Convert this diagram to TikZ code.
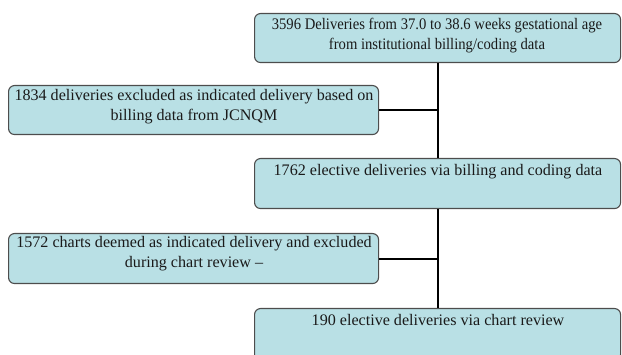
\documentclass[tikz,border=0pt]{standalone}
\usepackage{fontspec}
\setmainfont{Liberation Serif}
\definecolor{boxfill}{HTML}{B9E0E5}
\definecolor{boxline}{HTML}{4D4D4D}
\definecolor{txtcol}{HTML}{1A1A1A}
\tikzset{
  flowbox/.style={draw=boxline, fill=boxfill, line width=1.1pt, rounded corners=6pt, inner sep=0pt, anchor=north west},
  boxtext/.style={text=txtcol, font=\fontsize{16.1}{20}\selectfont, align=center, inner sep=0pt},
  link/.style={draw=black, line width=2pt}
}
\begin{document}
\begin{tikzpicture}[x=1pt,y=-1pt]
\useasboundingbox (0,0) rectangle (622,355);
\node[flowbox, minimum width=366pt, minimum height=49pt] (b1) at (254,13) {};
\node[flowbox, minimum width=370pt, minimum height=49pt] (b2) at (8,85) {};
\node[flowbox, minimum width=366pt, minimum height=50pt] (b3) at (254,158) {};
\node[flowbox, minimum width=370pt, minimum height=50pt] (b4) at (8,233) {};
\node[flowbox, minimum width=366pt, minimum height=52pt] (b5) at (254,308) {};
\node[boxtext, xscale=0.91, transform shape] (t1) at (437,36) {3596 Deliveries from 37.0 to 38.6 weeks gestational age\\from institutional billing/coding data};
\node[boxtext] (t2) at (194,107) {1834 deliveries excluded as indicated delivery based on\\billing data from JCNQM};
\node[boxtext] (t3) at (438,172) {1762 elective deliveries via billing and coding data};
\node[boxtext] (t4) at (194,254) {1572 charts deemed as indicated delivery and excluded\\during chart review --};
\node[boxtext] (t5) at (438,320) {190 elective deliveries via chart review};
\coordinate (j1) at (b2.east -| 438,0);
\coordinate (j2) at (b4.east -| 438,0);
\draw[link] (b1.south -| 438,0) -- (b3.north -| 438,0);
\draw[link] (b3.south -| 438,0) -- (b5.north -| 438,0);
\draw[link] (b2.east) -- (j1);
\draw[link] (b4.east) -- (j2);
\end{tikzpicture}
\end{document}
